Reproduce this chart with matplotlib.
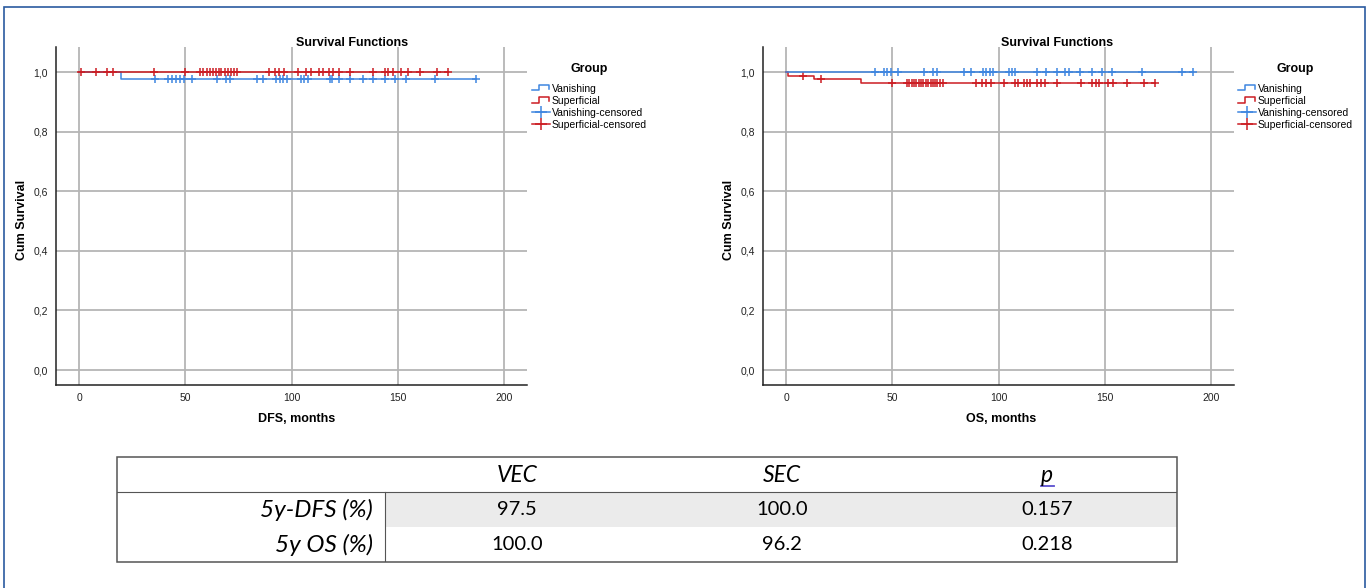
import numpy as np
import matplotlib.pyplot as plt
from matplotlib.lines import Line2D
from matplotlib.legend_handler import HandlerBase
from matplotlib.patches import Rectangle

plt.rcParams['font.family'] = ['Liberation Sans', 'DejaVu Sans']

BLUE = '#3f86e0'
RED = '#cc1d23'
W, H = 1371, 588

# ---- data (months) ----
# DFS
dfs_van_events = [19.7]
dfs_van_surv = [0.975]
dfs_van_cens = [35.8, 41.7, 43.7, 45.6, 47.5, 49.5, 53, 64.9, 69.2, 70.8, 83.8, 86.8,
                92.8, 94.7, 96.2, 98, 104.6, 106.1, 107.7, 118.2, 119.2, 122.6, 127.8,
                133.6, 138.4, 143.9, 148.6, 154.1, 167.8, 187.1]
dfs_sup_events = []
dfs_sup_surv = []
dfs_sup_cens = [0.8, 7.9, 13, 15.7, 35, 49.8, 57, 58.5, 60, 61.5, 63, 64.5, 66, 67, 68.5,
                70, 71.5, 73, 74.5, 89.6, 92, 94.3, 96.7, 103, 107, 109, 113, 114.8, 117.6,
                119.5, 122.6, 127.8, 138.4, 143.9, 145.4, 147.8, 151.7, 154.9, 160.7,
                168.7, 173.7]
# OS
os_van_events = []
os_van_surv = []
os_van_cens = [41.7, 46, 47.6, 49.5, 52.7, 64.9, 68.9, 70.8, 83.6, 86.9, 92.8, 94.3, 95.9,
               97.5, 104.9, 106.4, 107.7, 118, 122.6, 127.4, 131.3, 133.2, 138.4, 143.9,
               148.6, 153.3, 167.5, 186.6, 191.8]
os_sup_events = [1, 13, 35]
os_sup_surv = [0.987, 0.975, 0.962]
os_sup_cens = [7.9, 16.2, 50, 57, 58, 59, 60, 61, 62.5, 63.5, 64.5, 66, 67, 68, 69, 70, 71,
               72.5, 74, 89.6, 92, 94.3, 96.7, 102.7, 107.7, 109.3, 112, 113.5, 115, 118,
               120, 122, 127.8, 138.7, 144, 145.8, 147.5, 151.7, 153.8, 160.8, 168.7, 173.7]

# ---- table ----
col_labels = ['VEC', 'SEC', 'p']
row_labels = ['5y-DFS (%)', '5y OS (%)']
table_vals = [['97.5', '100.0', '0.157'],
              ['100.0', '96.2', '0.218']]

y_ticks = [0.0, 0.2, 0.4, 0.6, 0.8, 1.0]
x_ticks = [0, 50, 100, 150, 200]


class StepHandler(HandlerBase):
    # little step glyph like the SPSS legend
    def create_artists(self, legend, orig_handle, xdescent, ydescent, width, height, fontsize, trans):
        xs = np.array([0, 0.4, 0.4, 0.95, 0.95]) * width - xdescent
        ys = np.array([0.15, 0.15, 0.85, 0.85, 0.4]) * height - ydescent
        ln = Line2D(xs, ys, color=orig_handle.get_color(), lw=1.1, transform=trans)
        return [ln]


def km_curve(ax, events, surv, cens, color):
    last = max(cens + events)
    t = np.concatenate([[0], events, [last]])
    s = np.concatenate([[1.0], surv, [surv[-1] if surv else 1.0]])
    ax.step(t, s, where='post', color=color, lw=1.1)
    levels = np.concatenate([[1.0], surv])
    idx = np.searchsorted(np.array(events, dtype=float), cens, side='right')
    ax.plot(cens, levels[idx], linestyle='none', marker='+', ms=5.5, mew=1.1, color=color)


fig = plt.figure(figsize=(W / 100, H / 100), dpi=100)

panels = [
    (56, 'DFS, months', dfs_van_events, dfs_van_surv, dfs_van_cens,
     dfs_sup_events, dfs_sup_surv, dfs_sup_cens, 352, 297, 527),
    (763, 'OS, months', os_van_events, os_van_surv, os_van_cens,
     os_sup_events, os_sup_surv, os_sup_cens, 1057, 1001, 1233),
]

for (x0, xlab, ve, vs, vc, se, ss, sc, title_x, xlab_x, leg_x) in panels:
    ax = fig.add_axes([x0 / W, 1 - 385 / H, 471 / W, 338 / H])
    ax.set_xlim(-11, 211)
    ax.set_ylim(-0.05, 1.084)
    for sp in ['top', 'right']:
        ax.spines[sp].set_visible(False)
    for sp in ['left', 'bottom']:
        ax.spines[sp].set_color('#222222')
        ax.spines[sp].set_linewidth(1.1)
    ax.set_xticks(x_ticks)
    ax.set_yticks(y_ticks)
    ax.set_yticklabels([f'{v:.1f}'.replace('.', ',') for v in y_ticks])
    ax.tick_params(length=0, labelsize=7.5, colors='#222222', pad=6)
    ax.grid(True, color='#b5b5b5', lw=1.3)
    ax.set_axisbelow(True)

    if x0 < 400:
        km_curve(ax, ve, vs, vc, BLUE)
        km_curve(ax, se, ss, sc, RED)
    else:
        km_curve(ax, se, ss, sc, RED)
        km_curve(ax, ve, vs, vc, BLUE)

    fig.text(title_x / W, 1 - 43 / H, 'Survival Functions', ha='center', va='center',
             fontsize=9, fontweight='bold')
    fig.text((x0 - 34) / W, 1 - 220 / H, 'Cum Survival', ha='center', va='center',
             rotation=90, fontsize=9, fontweight='bold')
    fig.text(xlab_x / W, 1 - 419 / H, xlab, ha='center', va='center',
             fontsize=9, fontweight='bold')

    handles = [Line2D([], [], color=BLUE), Line2D([], [], color=RED),
               Line2D([], [], color=BLUE, marker='+', ms=8, mew=1.1, lw=1.1),
               Line2D([], [], color=RED, marker='+', ms=8, mew=1.1, lw=1.1)]
    labels = ['Vanishing', 'Superficial', 'Vanishing-censored', 'Superficial-censored']
    leg = ax.legend(handles, labels, loc='upper left',
                    bbox_to_anchor=((leg_x) / W, 1 - 58 / H), bbox_transform=fig.transFigure,
                    frameon=False, title='Group', fontsize=7.5, numpoints=1,
                    handlelength=1.7, handletextpad=0.2, labelspacing=0.2, borderpad=0,
                    handler_map={handles[0]: StepHandler(), handles[1]: StepHandler()},
                    title_fontproperties={'weight': 'bold', 'size': 9})
    leg._legend_box.sep = 6

# ---- table below ----
tab = fig.add_axes([117 / W, 1 - 562 / H, 1060 / W, 105 / H])
tab.set_xlim(0, 1060)
tab.set_ylim(105, 0)
tab.axis('off')
tab.add_patch(Rectangle((268, 35), 792, 35, facecolor='#ebebeb', edgecolor='none'))
tab.add_patch(Rectangle((0, 0), 1060, 105, facecolor='none', edgecolor='#555555', lw=1.1,
                        clip_on=False))
tab.plot([0, 1060], [35, 35], color='#555555', lw=0.8)
tab.plot([268, 268], [35, 105], color='#555555', lw=0.8)

col_x = [400, 665, 930]
tfont = ['Lato', 'DejaVu Sans']
for cx, lab in zip(col_x, col_labels):
    tab.text(cx, 19, lab, ha='center', va='center', fontsize=16.5, style='italic', family=tfont)
# blue underline under p
tab.plot([924, 937], [29, 29], color='#5a4fcf', lw=1.3)
for r, (rl, vals) in enumerate(zip(row_labels, table_vals)):
    yc = 52.5 + 35 * r
    tab.text(256, yc, rl, ha='right', va='center', fontsize=17.5, style='italic', family=tfont)
    for cx, v in zip(col_x, vals):
        tab.text(cx, yc, v, ha='center', va='center', fontsize=14.5, family=tfont)

# thin blue frame around the whole panel
fig.add_artist(Rectangle((4 / W, -0.05), 1361 / W, 1.05 - 7 / H, transform=fig.transFigure,
                         facecolor='none', edgecolor='#2a5aa0', lw=1.2, clip_on=False))

fig.savefig('out.png', dpi=100)
